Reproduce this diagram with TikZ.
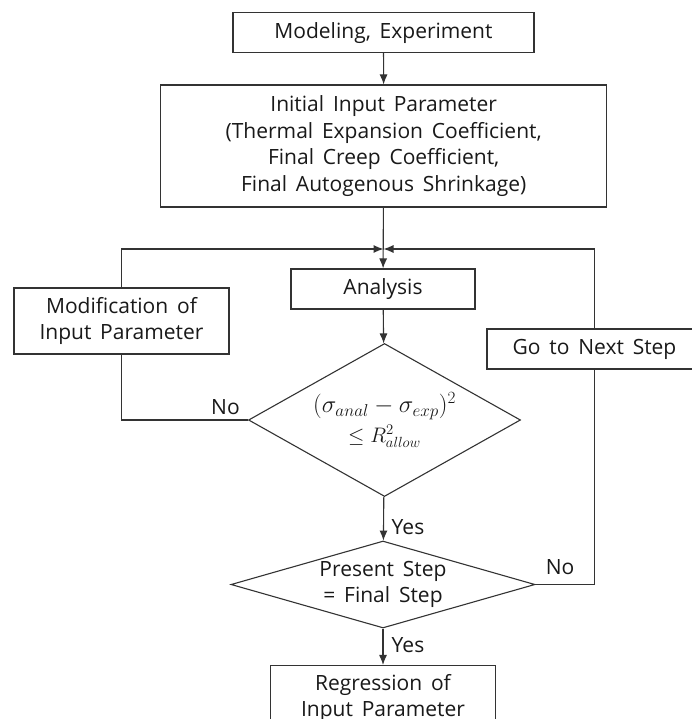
\RequirePackage{fix-cm}
\documentclass[tikz,border=0pt]{standalone}
\usepackage[no-math]{fontspec}
\setmainfont{Open Sans}
\usetikzlibrary{arrows.meta,shapes.geometric}
\newcommand\boxfont{\fontsize{21}{26.5}\selectfont\spaceskip=0.42em\relax}

\begin{document}
\begin{tikzpicture}[x=1pt,y=-1pt,line width=1.1pt,
  >={Latex[length=10pt,width=8pt]},
  box/.style={draw=black!80,fill=white,align=center,inner sep=0pt,
    font=\boxfont,text=black!90},
  test/.style={box,diamond},
  lbl/.style={font=\boxfont,text=black!90,inner sep=0pt}]
  \useasboundingbox[fill=white] (0,0) rectangle (692,719);

  \node[box,minimum width=301pt,minimum height=40pt] (model) at (383.5,32.7) {Modeling, Experiment};
  \node[box,minimum width=446pt,minimum height=122pt] (init) at (383.7,146)
    {Initial Input Parameter\\(Thermal Expansion Coefficient,\\Final Creep Coefficient,\\Final Autogenous Shrinkage)};
  \coordinate (join) at (383.5,249);
  \node[box,minimum width=184pt,minimum height=40pt] (anal) at (383,289) {Analysis};
  \node[box,minimum width=215pt,minimum height=66pt] (modif) at (121.5,321) {Modification of\\Input Parameter};
  \node[box,minimum width=215pt,minimum height=40pt] (next) at (594.5,349) {Go to Next Step};
  \node[test,aspect=1.8,minimum width=272pt,minimum height=153pt] (error) at (384.5,420)
    {\fontsize{24.5}{28}\selectfont$(\sigma_{anal}-\sigma_{exp})^2$\\[3pt]$\le R^2_{allow}$};
  \node[test,aspect=3.5,minimum width=304pt,minimum height=87pt] (final) at (383,584.5)
    {Present Step\\= Final Step};
  \node[box,minimum width=225pt,minimum height=65pt] (regr) at (383,698) {Regression of\\Input Parameter};

  % main flow
  \draw[black!80,->] (model) -- (init);
  \draw[black!80,->] (init) -- (anal);
  \draw[black!80,->] (anal) -- (error);
  \draw[black!80,->] (error) -- (final);
  \draw[black!80,->] (final) -- (regr);

  % loops back to analysis
  \draw[black!80] (error.west) -| (modif.south);
  \draw[black!80,->] (modif.north) |- (join);
  \draw[black!80] (final.east) -| (next.south);
  \draw[black!80,->] (next.north) |- (join);

  \node[lbl] (no1) at (225.5,407) {No};
  \node[lbl] (yes1) at (408,527) {Yes};
  \node[lbl] (no2) at (560,567) {No};
  \node[lbl] (yes2) at (408,645) {Yes};
\end{tikzpicture}
\end{document}
